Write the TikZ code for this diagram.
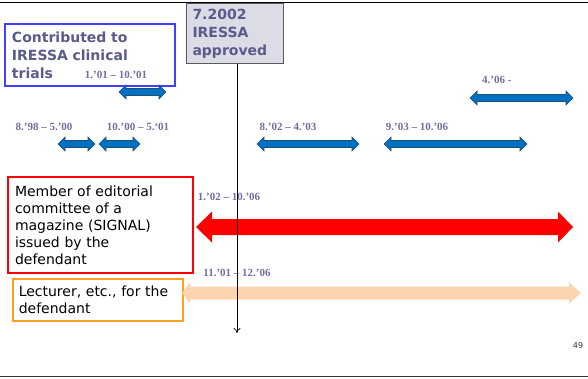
\documentclass[tikz,border=0pt]{standalone}
\usepackage{fontspec}
\setmainfont{DejaVu Sans}
\newfontfamily\labfont{Liberation Serif}
\usetikzlibrary{arrows.meta}
\definecolor{titlec}{RGB}{90,90,140}
\definecolor{labc}{RGB}{112,112,160}
\definecolor{bluebox}{RGB}{64,64,255}
\definecolor{arrblue}{RGB}{0,112,192}
\definecolor{arredge}{RGB}{31,78,121}
\definecolor{grayfill}{RGB}{220,220,230}
\definecolor{grayedge}{RGB}{90,90,90}
\definecolor{peach}{RGB}{252,213,176}
\definecolor{orangec}{RGB}{255,160,32}
\newcommand\dblarr[8]{%
 \path[#8] (#1,#3) -- (#1+#6,#3-#5) -- (#1+#6,#3-#4) -- (#2-#7,#3-#4) -- (#2-#7,#3-#5) -- (#2,#3) -- (#2-#7,#3+#5) -- (#2-#7,#3+#4) -- (#1+#6,#3+#4) -- (#1+#6,#3+#5) -- cycle;}
\tikzset{
 lab/.style={font=\labfont\bfseries\fontsize{11}{13}\selectfont, text=labc, inner sep=0pt},
 title/.style={font=\bfseries\fontsize{14}{17.8}\selectfont, text=titlec, align=left},
 body/.style={font=\fontsize{14}{17}\selectfont, text=black, align=left},
 bluearr/.style={fill=arrblue, draw=arredge, line width=0.6pt},
}
\begin{document}
\begin{tikzpicture}[x=1pt,y=-1pt]
\useasboundingbox (0,0) rectangle (588,378);
\draw[line width=1.2pt] (0,2.5) -- (588,2.5);
\draw[line width=1.5pt, black!80] (0,376.5) -- (588,376.5);
% blue box
\node[title, draw=bluebox, line width=2pt, fill=white, anchor=north west, minimum width=170, minimum height=62, text width=156, inner xsep=7, inner ysep=2] (blue) at (4,23) {Contributed to\\IRESSA clinical\\trials};
% gray box
\node[title, draw=grayedge, line width=1pt, fill=grayfill, anchor=north west, minimum width=97, minimum height=60, text width=85, inner xsep=6, inner ysep=2] (gb) at (186,3) {7.2002\\IRESSA\\approved};
\coordinate (vend) at (237,333);
% labels
\node[lab] (l1) at (116,75) {1.’01 – 10.’01};
\node[lab] (l2) at (44,127) {8.’98 – 5.’00};
\node[lab] (l3) at (138,127) {10.’00 – 5.‘01};
\node[lab] (l4) at (288,127) {8.’02 – 4.’03};
\node[lab] (l5) at (417,127) {9.’03 – 10.’06};
\node[lab, anchor=west] (l6) at (482,80) {4.’06 -};
% blue arrows
\dblarr{119}{166}{92}{3.5}{7}{7}{7}{bluearr}
\dblarr{58}{95}{144}{3.5}{7}{7}{7}{bluearr}
\dblarr{99}{140}{144}{3.5}{7}{7}{7}{bluearr}
\dblarr{257}{359}{144}{3.5}{7}{7}{7}{bluearr}
\dblarr{384}{527}{144}{3.5}{7}{7}{7}{bluearr}
\dblarr{470}{573}{98}{3.5}{7}{7}{7}{bluearr}
% red box and arrow
\node[body, draw=red, line width=2pt, fill=white, anchor=north west, minimum width=185, minimum height=96, text width=171, inner xsep=7, inner ysep=2] (red) at (7,176) {Member of editorial\\committee of a\\magazine (SIGNAL)\\issued by the\\defendant};
\dblarr{196}{573}{227}{8}{15.5}{16}{15}{fill=red}
\node[lab] (l7) at (229,197) {1.’02 – 10.’06};
% orange box and arrow
\node[body, draw=orangec, line width=1.5pt, fill=white, anchor=north west, minimum width=170, minimum height=42, text width=158, inner xsep=6, inner ysep=2] (orange) at (12,278) {Lecturer, etc., for the\\defendant};
\dblarr{182}{581}{293}{6.5}{10.5}{8}{12}{fill=peach}
\node[lab] (l8) at (237,273) {11.’01 – 12.’06};
\node[font=\fontsize{8}{9}\selectfont, text=black!80] (pg) at (578,346) {49};
% vertical timeline marker on top
\draw[line width=0.7pt, -{To[length=5pt,width=7pt]}] (gb.south -| vend) -- (vend);
\end{tikzpicture}
\end{document}
